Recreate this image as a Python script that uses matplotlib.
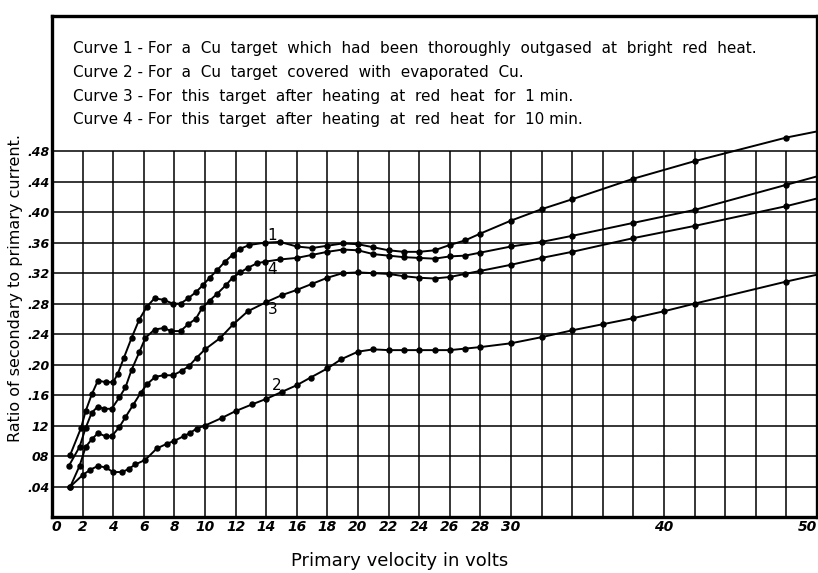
import matplotlib
matplotlib.use("Agg")
import matplotlib.pyplot as plt

# ---- data ----
c1_x = [1.2, 1.9, 2.2, 2.6, 3.0, 3.5, 4.0, 4.3, 4.7, 5.2, 5.7, 6.2, 6.7, 7.3, 7.9, 8.4, 8.9, 9.4,
        9.9, 10.3, 10.8, 11.3, 11.8, 12.3, 12.9, 13.9, 14.9, 16, 17, 18, 19, 20, 21, 22, 23, 24,
        25, 26, 27, 28, 30, 32, 34, 38, 42, 48, 50]
c1_y = [.082, .117, .139, .161, .179, .177, .177, .188, .209, .235, .259, .276, .287, .285, .280,
        .280, .287, .295, .305, .314, .324, .335, .344, .352, .357, .360, .361, .355, .353, .356,
        .359, .358, .354, .350, .348, .348, .350, .357, .363, .372, .389, .404, .417, .444, .467,
        .498, .506]

c4_x = [1.1, 1.8, 2.2, 2.6, 3.0, 3.4, 3.9, 4.4, 4.8, 5.2, 5.7, 6.1, 6.7, 7.3, 7.8, 8.4, 8.9, 9.4,
        9.8, 10.3, 10.8, 11.4, 11.8, 12.3, 12.8, 13.4, 13.9, 14.9, 16, 17, 18, 19, 20, 21, 22, 23,
        24, 25, 26, 27, 28, 30, 32, 34, 38, 42, 48, 50]
c4_y = [.067, .092, .117, .137, .145, .142, .142, .157, .170, .193, .216, .235, .246, .248, .244,
        .244, .253, .260, .274, .284, .293, .305, .314, .321, .327, .333, .335, .338, .340, .344,
        .348, .351, .350, .345, .343, .341, .340, .339, .342, .343, .347, .355, .361, .369, .386,
        .403, .436, .447]

c3_x = [1.2, 1.8, 2.2, 2.6, 3.0, 3.5, 3.9, 4.4, 4.8, 5.3, 5.8, 6.2, 6.75, 7.3, 7.9, 8.5, 8.95,
        9.45, 10.0, 11.0, 11.85, 12.8, 14, 15, 16, 17, 18, 19, 20, 21, 22, 23, 24, 25, 26, 27, 28,
        30, 32, 34, 38, 42, 48, 50]
c3_y = [.040, .067, .092, .102, .110, .106, .106, .118, .131, .147, .163, .174, .184, .186, .186,
        .192, .198, .209, .220, .235, .253, .270, .282, .291, .298, .306, .314, .320, .321, .320,
        .319, .316, .314, .313, .315, .319, .323, .331, .340, .348, .366, .382, .408, .418]

c2_x = [1.2, 2.0, 2.5, 3.0, 3.5, 4.0, 4.6, 5.0, 5.45, 6.1, 6.85, 7.5, 8.0, 8.6, 9.0, 9.45, 10.0,
        11.1, 12.0, 13.1, 14.0, 15.0, 16.0, 16.9, 18.0, 18.9, 20, 21, 22, 23, 24, 25, 26, 27, 28,
        30, 32, 34, 36, 38, 40, 42, 48, 50]
c2_y = [.040, .055, .062, .067, .065, .059, .059, .063, .069, .075, .090, .096, .100, .106, .110,
        .116, .120, .130, .139, .148, .155, .164, .173, .183, .195, .207, .217, .220, .219, .219,
        .219, .219, .219, .221, .223, .228, .236, .245, .253, .261, .270, .280, .309, .318]

x_ticks = [0, 2, 4, 6, 8, 10, 12, 14, 16, 18, 20, 22, 24, 26, 28, 30, 40, 50]
x_tick_labels = [str(v) for v in x_ticks]
y_ticks = [.04, .08, .12, .16, .20, .24, .28, .32, .36, .40, .44, .48]
y_tick_labels = [".04", "08", "12", ".16", ".20", ".24", ".28", ".32", ".36", ".40", ".44", ".48"]
x_grid = list(range(2, 50, 2))

curve_labels = ["1", "4", "3", "2"]
curve_label_x = [14.4, 14.4, 14.4, 14.7]
curve_label_y = [0.370, 0.325, 0.272, 0.173]

notes = [
    "Curve 1 - For  a  Cu  target  which  had  been  thoroughly  outgased  at  bright  red  heat.",
    "Curve 2 - For  a  Cu  target  covered  with  evaporated  Cu.",
    "Curve 3 - For  this  target  after  heating  at  red  heat  for  1 min.",
    "Curve 4 - For  this  target  after  heating  at  red  heat  for  10 min.",
]

# ---- figure ----
W, H = 818, 573
fig = plt.figure(figsize=(W / 100, H / 100), dpi=100)
ax = fig.add_axes([52 / W, (H - 517) / H, 765 / W, (517 - 16) / H])
ax.set_xlim(0, 50)
ax.set_ylim(0, 0.6575)

# grid
ax.hlines(y_ticks, 0, 50, colors="black", linewidth=1.1, zorder=1)
ax.vlines(x_grid, 0, 0.48, colors="black", linewidth=1.1, zorder=1)

for xs, ys in [(c1_x, c1_y), (c4_x, c4_y), (c3_x, c3_y), (c2_x, c2_y)]:
    ax.plot(xs, ys, color="black", linewidth=1.4, marker="o", markersize=3.6,
            markevery=list(range(len(xs) - 1)), zorder=3, clip_on=True)

for lab, lx, ly in zip(curve_labels, curve_label_x, curve_label_y):
    ax.text(lx, ly, lab, fontsize=11, ha="center", va="center", color="black")

for sp in ax.spines.values():
    sp.set_linewidth(2.4)
    sp.set_color("black")

ax.set_xticks(x_ticks)
ax.set_xticklabels(x_tick_labels, fontsize=10, fontstyle="italic", fontweight="bold")
ax.set_yticks(y_ticks)
ax.set_yticklabels(y_tick_labels, fontsize=9, fontstyle="italic", fontweight="bold")
ax.tick_params(axis="both", length=0)
ax.tick_params(axis="x", pad=2)
ax.tick_params(axis="y", pad=2)
xl = ax.get_xticklabels()
xl[0].set_ha("left")
xl[-1].set_ha("right")

fig.text(400 / W, 1 - 561 / H, "Primary velocity in volts", fontsize=13,
         ha="center", va="center")
fig.text(16 / W, 1 - 288 / H, "Ratio of secondary to primary current.", fontsize=11.5,
         ha="center", va="center", rotation=90)

for i, line in enumerate(notes):
    fig.text(73 / W, 1 - (49 + 23.5 * i) / H, line, fontsize=11, ha="left", va="center")

fig.savefig("out.png", dpi=100)
